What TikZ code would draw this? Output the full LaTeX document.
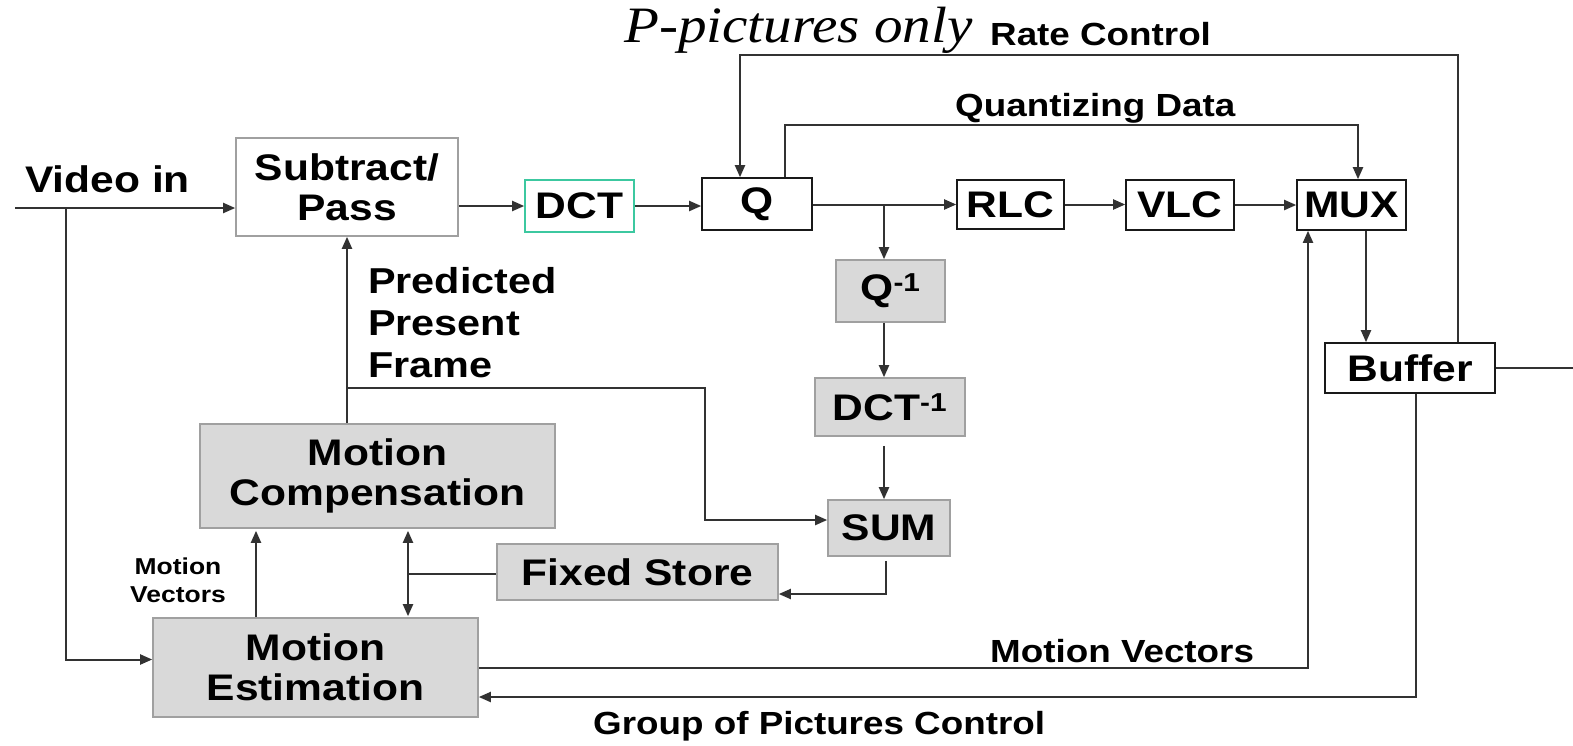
\documentclass[tikz,border=0pt]{standalone}
\usepackage{fontspec}
\setmainfont[FakeStretch=1.15]{Liberation Sans}
\newfontfamily\serifit[FakeStretch=1.12]{Liberation Serif}
\usetikzlibrary{arrows.meta}

\definecolor{wirecol}{RGB}{50,50,50}
\definecolor{boxgray}{RGB}{217,217,217}
\definecolor{edgegray}{RGB}{160,160,160}
\definecolor{dctteal}{RGB}{60,200,160}

\newcommand{\fsz}[2]{\fontsize{#1}{#2}\selectfont}

\tikzset{
  blk/.style={draw=black!90, line width=1.6pt, fill=white, inner sep=0pt,
              font=\bfseries\fsz{37}{40}, align=center},
  gblk/.style={blk, draw=edgegray, fill=boxgray},
  wire/.style={draw=wirecol, line width=2pt},
  arr/.style={wire, -{Triangle[length=12pt,width=10pt]}},
  darr/.style={wire, {Triangle[length=12pt,width=10pt]}-{Triangle[length=12pt,width=10pt]}},
  lbl/.style={inner sep=0pt, font=\bfseries\fsz{32}{36}},
}

\begin{document}
\begin{tikzpicture}[x=1pt,y=-1pt]
\useasboundingbox (0,0) rectangle (1573,745);

% ---- blocks ----
\node[blk, draw=edgegray, minimum width=222pt, minimum height=98pt] (sub) at (347,187) {Subtract/\\Pass};
\node[blk, draw=dctteal, minimum width=109pt, minimum height=52pt] (dct) at (579.5,206) {DCT};
\node[blk, minimum width=110pt, minimum height=52pt] (q) at (757,204) {Q};
\node[blk, minimum width=107pt, minimum height=49pt] (rlc) at (1010.5,204.5) {RLC};
\node[blk, minimum width=108pt, minimum height=50pt] (vlc) at (1180,205) {VLC};
\node[blk, minimum width=109pt, minimum height=50pt] (mux) at (1351.5,205) {MUX};
\node[blk, minimum width=170pt, minimum height=50pt] (buf) at (1410,368) {Buffer};
\node[gblk, minimum width=109pt, minimum height=62pt] (qinv) at (890.5,291) {Q\textsuperscript{-1}};
\node[gblk, minimum width=150pt, minimum height=58pt] (dctinv) at (890,407) {DCT\textsuperscript{-1}};
\node[gblk, minimum width=122pt, minimum height=56pt] (sum) at (889,528) {SUM};
\node[gblk, minimum width=281pt, minimum height=56pt] (fs) at (637.5,572) {Fixed Store};
\node[gblk, minimum width=355pt, minimum height=104pt] (mc) at (377.5,476) {Motion\\Compensation};
\node[gblk, minimum width=325pt, minimum height=99pt] (me) at (315.5,667.5) {Motion\\Estimation};

% ---- labels ----
\node[lbl, font=\bfseries\fsz{37}{40}, anchor=base west] (tvin) at (25,192) {Video in};
\node[inner sep=0pt, font=\serifit\itshape\fsz{51}{55}, anchor=base west] (tpp) at (624,42) {P-pictures only};
\node[lbl, anchor=base west] (trc) at (990,45) {Rate Control};
\node[lbl, anchor=base west] (tqd) at (955,116) {Quantizing Data};
\node[lbl, anchor=base west] (tmv) at (990,662) {Motion Vectors};
\node[lbl, anchor=base west] (tgop) at (593,734) {Group of Pictures Control};
\node[lbl, font=\bfseries\fsz{36}{42}, anchor=north west, align=left] (tppf) at (368,267) {Predicted\\Present\\Frame};
\node[lbl, font=\bfseries\fsz{23}{28}, align=center] (tmvs) at (178,580) {Motion\\Vectors};

% ---- routing points ----
\coordinate (vin) at (15,208);
\coordinate (vsplit) at (66,208);
\coordinate (rcl) at (740,55);
\coordinate (rcr) at (1458,55);
\coordinate (qdl) at (785,125);
\coordinate (qdr) at (1358,125);
\coordinate (qsplit) at (884,206);
\coordinate (mbx) at (1366,0);
\coordinate (gop) at (1416,697);
\coordinate (mv) at (1308,668);
\coordinate (bout) at (1573,366);
\coordinate (sf) at (886,594);
\coordinate (dv) at (408,574);
\coordinate (mex) at (256,0);
\coordinate (pp) at (347,388);
\coordinate (pb) at (705,388);
\coordinate (ps) at (705,520);

% ---- main path ----
\draw[arr] (vin) -- (vin -| sub.west);
\draw[arr] (vsplit) |- ([yshift=8pt]me.west);
\draw[arr] (sub.east |- dct.west) -- (dct.west);
\draw[arr] (dct.east) -- (dct.east -| q.west);
\draw[arr] (q.east |- rlc.west) -- (rlc.west);
\draw[arr] (rlc.east) -- (rlc.east -| vlc.west);
\draw[arr] (vlc.east) -- (vlc.east -| mux.west);
\draw[arr] (mbx |- mux.south) -- (mbx |- buf.north);
\draw[wire] (buf.east) -- (buf.east -| bout);

% ---- feedback and side paths ----
\draw[arr] (rcr |- buf.north) -- (rcr) -- (rcl) -- (rcl |- q.north);
\draw[arr] (qdl |- q.north) -- (qdl) -- (qdr) -- (qdr |- mux.north);
\draw[arr] (qsplit) -- (qsplit |- qinv.north);
\draw[arr] (qsplit |- qinv.south) -- (qsplit |- dctinv.north);
\draw[arr, shorten <=9pt] (qsplit |- dctinv.south) -- (qsplit |- sum.north);
\draw[arr, shorten <=4pt] (sf |- sum.south) -- (sf) -- (sf -| fs.east);
\draw[wire] (fs.west |- dv) -- (dv);
\draw[darr] ([yshift=-2pt]dv |- mc.south) -- ([yshift=1pt]dv |- me.north);
\draw[arr] (mex |- me.north) -- ([yshift=-2pt]mex |- mc.south);
\draw[arr] (pp |- mc.north) -- (pp |- sub.south);
\draw[arr] (pp) -- (pb) -- (ps) -- (ps -| sum.west);
\draw[arr] (mv -| me.east) -- (mv) -- (mv |- mux.south);
\draw[arr] (gop |- buf.south) -- (gop) -- (gop -| me.east);
\end{tikzpicture}
\end{document}
